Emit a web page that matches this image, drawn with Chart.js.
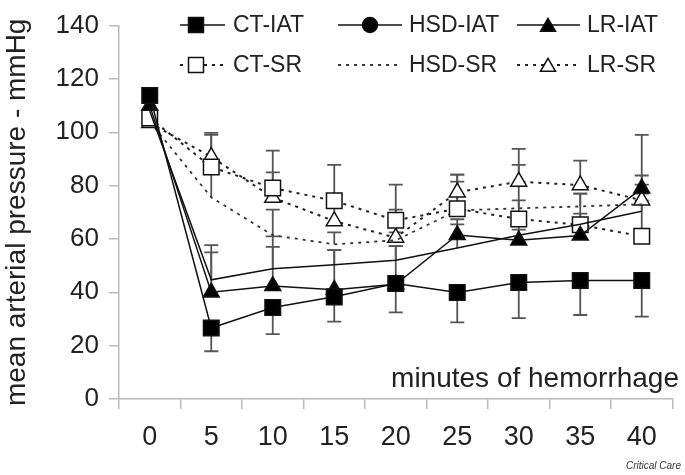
<!DOCTYPE html>
<html><head><meta charset="utf-8">
<script src="https://cdn.jsdelivr.net/npm/chart.js@4.4.1/dist/chart.umd.min.js"></script>
<style>html,body{margin:0;padding:0;background:#fff;}canvas{display:block;}</style>
</head><body>
<canvas id="c" width="685" height="475"></canvas>
<script>
// ---- data ----
const categories = ['0','5','10','15','20','25','30','35','40'];
const ctIat  = [113.8, 26.6, 34.3, 38.3, 43.3, 39.9, 43.7, 44.4, 44.4];
const hsdIat = [108, 44.7, 48.8, 50.3, 52, 56.6, 61.4, 65.5, 70.4];
const lrIat  = [110, 40, 42.4, 41, 43, 61.5, 59.5, 61.3, 79];
const ctSr   = [105.4, 87, 79.1, 74.3, 67, 71.3, 67.5, 65.3, 61];
const hsdSr  = [104, 75.6, 61.4, 58, 59.5, 70.7, 71.5, 72.2, 73];
const lrSr   = [103.5, 90.8, 75.5, 66.7, 60.5, 77.5, 81.5, 80.2, 74.5];
// error bar lengths (CT-IAT drawn downward, others upward)
const ctIatErr  = [null, 8.7, 10, 9.3, 10.8, 11.2, 13.4, 12.9, 13.5];
const hsdIatErr = [null, 13, 8.2, 5.5, 5.3, 10.8, 4, 4, 4];
const lrIatErr  = [null, 15, 18.6, 14.8, 14.3, 4, 4, 3, 20];
const ctSrErr   = [null, 12.8, 14, 13.5, 13.4, 12.8, 20.3, 11.7, 19.4];
const hsdSrErr  = [null, 12, 9.6, 4.5, 3, 10.8, 3, 4.8, 4];
const lrSrErr   = [null, 8.2, 9.5, 7, 10.5, 6.6, 12.3, 9.2, 9.3];
const yTicks = {min: 0, max: 140, step: 20};
const seriesLabels = ['CT-IAT','HSD-IAT','LR-IAT','CT-SR','HSD-SR','LR-SR'];

const FONT = "'Liberation Sans', Arial, Helvetica, sans-serif";
const TEXT = '#222';

const errorBars = {
  id: 'errorBars',
  beforeDatasetsDraw(chart) {
    const ctx = chart.ctx, ys = chart.scales.y;
    chart.data.datasets.forEach((ds, i) => {
      if (!ds.err) return;
      const meta = chart.getDatasetMeta(i);
      ds.err.forEach((e, j) => {
        if (e == null) return;
        const p = meta.data[j];
        const y0 = ys.getPixelForValue(ds.data[j]);
        const y1 = ys.getPixelForValue(ds.data[j] + ds.errDir * e);
        ctx.save();
        ctx.strokeStyle = '#555';
        ctx.lineWidth = 1.8;
        ctx.beginPath();
        ctx.moveTo(p.x, y0); ctx.lineTo(p.x, y1);
        ctx.moveTo(p.x - 7, y1); ctx.lineTo(p.x + 7, y1);
        ctx.stroke();
        ctx.restore();
      });
    });
  }
};

const customLegend = {
  id: 'customLegend',
  afterDraw(chart) {
    const ctx = chart.ctx;
    const cols = [{x0: 180, x1: 225, mx: 196, tx: 233}, {x0: 338, x1: 402, mx: 370, tx: 409}, {x0: 517, x1: 580, mx: 548, tx: 587}];
    const rows = [25, 65];
    const radii = {rect: 10.6, circle: 7.5, triangle: 8.7};
    chart.data.datasets.forEach((ds, i) => {
      const c = cols[i % 3], y = rows[Math.floor(i / 3)];
      ctx.save();
      ctx.strokeStyle = ds.borderColor;
      ctx.lineWidth = ds.borderWidth;
      ctx.setLineDash(ds.borderDash || []);
      ctx.beginPath(); ctx.moveTo(c.x0, y); ctx.lineTo(c.x1, y); ctx.stroke();
      ctx.setLineDash([]);
      if (ds.legendMarker) {
        ctx.fillStyle = ds.pointBackgroundColor;
        ctx.strokeStyle = '#111';
        ctx.lineWidth = 1.5;
        const yy = ds.legendMarker === 'triangle' ? y + 2 : y;
        Chart.helpers.drawPoint(ctx, {pointStyle: ds.legendMarker, radius: radii[ds.legendMarker], rotation: 0, borderWidth: 1.5}, c.mx, yy);
      }
      ctx.fillStyle = TEXT;
      ctx.font = '23px ' + FONT;
      ctx.textBaseline = 'middle';
      ctx.textAlign = 'left';
      ctx.fillText(ds.label, c.tx, y + 1);
      ctx.restore();
    });
    // in-plot x label and source
    ctx.save();
    ctx.fillStyle = TEXT;
    ctx.font = '28px ' + FONT;
    ctx.textAlign = 'right';
    ctx.textBaseline = 'alphabetic';
    ctx.fillText('minutes of hemorrhage', 679, 387);
    ctx.font = 'italic 10px ' + FONT;
    ctx.fillStyle = '#333';
    ctx.fillText('Critical Care', 681, 469);
    ctx.restore();
  }
};

function ds(label, data, err, errDir, opts) {
  return Object.assign({
    label, data, err, errDir,
    borderColor: '#111', borderWidth: 1.5, tension: 0,
    pointRadius: 0, pointHoverRadius: 0,
    pointBorderColor: '#111', pointBorderWidth: 1.5
  }, opts);
}

const datasets = [
  ds(seriesLabels[0], ctIat, ctIatErr, -1, {pointStyle: 'rect', pointRadius: 11, pointBackgroundColor: '#000', legendMarker: 'rect'}),
  ds(seriesLabels[1], hsdIat, hsdIatErr, 1, {pointStyle: 'circle', pointRadius: 0, pointBackgroundColor: '#000', legendMarker: 'circle'}),
  ds(seriesLabels[2], lrIat, lrIatErr, 1, {pointStyle: 'triangle', pointRadius: 9.2, pointBackgroundColor: '#000', legendMarker: 'triangle'}),
  ds(seriesLabels[3], ctSr, ctSrErr, 1, {borderColor: '#222', borderWidth: 2, borderDash: [3, 5], pointStyle: 'rect', pointRadius: 11, pointBackgroundColor: '#fff', legendMarker: 'rect'}),
  ds(seriesLabels[4], hsdSr, hsdSrErr, 1, {borderColor: '#333', borderWidth: 1.8, borderDash: [3, 5], pointRadius: 0, pointBackgroundColor: '#fff', legendMarker: null}),
  ds(seriesLabels[5], lrSr, lrSrErr, 1, {borderColor: '#222', borderWidth: 2, borderDash: [3, 5], pointStyle: 'triangle', pointRadius: 9.2, pointBackgroundColor: '#fff', legendMarker: 'triangle'})
];

new Chart(document.getElementById('c'), {
  type: 'line',
  data: {labels: categories, datasets},
  options: {
    responsive: false,
    animation: false,
    devicePixelRatio: 1,
    layout: {padding: {top: 23, right: 7, left: 0, bottom: 0}},
    plugins: {legend: {display: false}, tooltip: {enabled: false}},
    scales: {
      x: {
        type: 'category', offset: true,
        grid: {offset: true, drawOnChartArea: false, drawTicks: true, tickLength: 10, color: '#bbb', lineWidth: 1.5},
        border: {color: '#bbb', width: 1.5},
        ticks: {font: {family: FONT, size: 27}, color: TEXT, padding: 12, maxRotation: 0, autoSkip: false},
        afterFit(s) { s.height = 76; }
      },
      y: {
        min: yTicks.min, max: yTicks.max,
        grid: {drawOnChartArea: false, drawTicks: true, tickLength: 10, color: '#bbb', lineWidth: 1.5},
        border: {color: '#bbb', width: 1.5},
        ticks: {stepSize: yTicks.step, font: {family: FONT, size: 26}, color: TEXT, padding: 10},
        title: {display: true, text: 'mean arterial pressure - mmHg', font: {family: FONT, size: 28}, color: TEXT, padding: 0},
        afterFit(s) { s.width = 119; }
      }
    }
  },
  plugins: [errorBars, customLegend]
});
</script>
</body></html>
